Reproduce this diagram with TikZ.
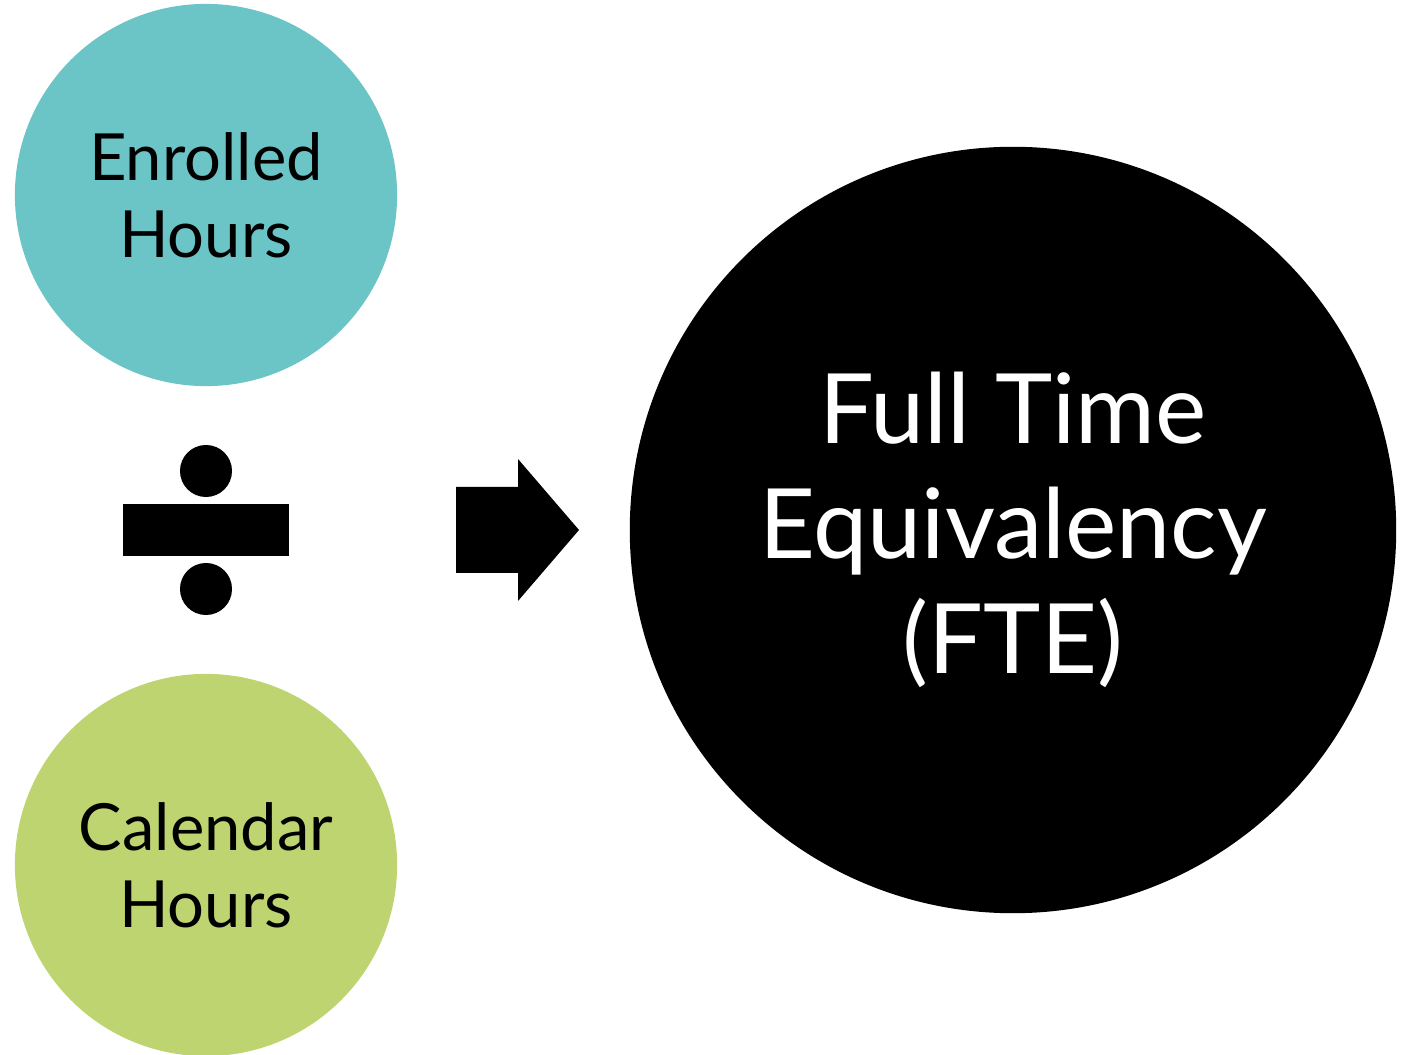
\documentclass[tikz,border=0pt]{standalone}
\usepackage{fontspec}
\setmainfont{Lato}
\usetikzlibrary{positioning}
\definecolor{enrolledteal}{RGB}{107,196,198}
\definecolor{calendargreen}{RGB}{189,212,112}

\begin{document}
\begin{tikzpicture}[x=0.01cm, y=-0.01cm,
                    small node/.style={circle,minimum size=3.82cm,inner sep=0pt,align=center,
                                       font=\fontsize{18.5}{22}\selectfont},
                    big node/.style={circle,fill=black,text=white,minimum size=7.66cm,inner sep=0pt,
                                     align=center,font=\fontsize{27.6}{32.7}\selectfont},
                    dot/.style={circle,fill=black,minimum size=0.52cm,inner sep=0pt}]

  \useasboundingbox (0,0) rectangle (1408,1055);

  \node[small node,fill=enrolledteal] (enrolled) at (206,195) {Enrolled\\Hours};
  \node[small node,fill=calendargreen] (calendar) at (206,865) {Calendar\\Hours};
  \node[big node] (fte) at (1013,530) {Full Time\\Equivalency\\(FTE)};

  % division sign
  \node[dot] (topdot) at (206,471) {};
  \node[fill=black,minimum width=1.65cm,minimum height=0.52cm,inner sep=0pt] (bar) at (206,530) {};
  \node[dot] (botdot) at (206,589) {};

  % arrow
  \coordinate (tip) at (579,530);
  \fill (456,487) -- (518,487) -- (518,459) -- (tip) -- (518,601) -- (518,573) -- (456,573) -- cycle;

\end{tikzpicture}
\end{document}
